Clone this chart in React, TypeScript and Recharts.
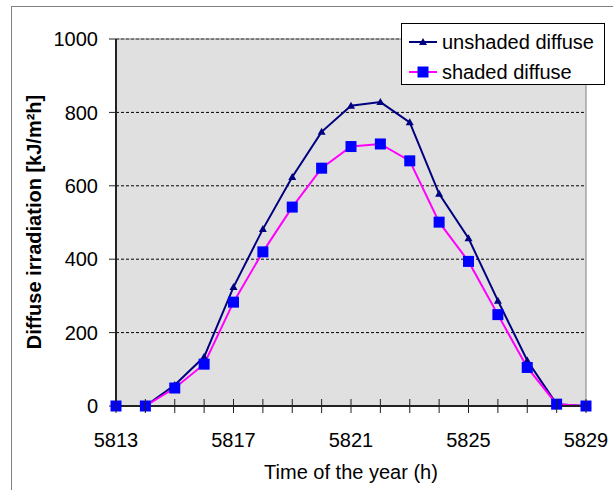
import React from 'react';
import {
  LineChart,
  Line,
  XAxis,
  YAxis,
  CartesianGrid,
  ReferenceLine,
} from 'recharts';

const hours = [5813, 5814, 5815, 5816, 5817, 5818, 5819, 5820, 5821, 5822, 5823, 5824, 5825, 5826, 5827, 5828, 5829];
const unshadedDiffuse = [0, 0, 57, 134, 324, 482, 624, 747, 818, 828, 773, 578, 457, 287, 124, 5, 0];
const shadedDiffuse = [0, 0, 49, 114, 283, 420, 542, 648, 707, 714, 668, 501, 394, 249, 105, 5, 0];
const xLabels = [5813, 5817, 5821, 5825, 5829];
const yTicks = [0, 200, 400, 600, 800, 1000];

const data = hours.map((h, i) => ({
  hour: h,
  unshaded: unshadedDiffuse[i],
  shaded: shadedDiffuse[i],
}));

const FONT = '"Liberation Sans", Arial, sans-serif';

const Triangle = (props: any) => {
  const { cx, cy, fill } = props;
  if (cx == null || cy == null) return null;
  return <polygon points={`${cx - 4},${cy + 3} ${cx + 4},${cy + 3} ${cx},${cy - 4}`} fill={fill} />;
};

const Square = (props: any) => {
  const { cx, cy, fill } = props;
  if (cx == null || cy == null) return null;
  return <rect x={cx - 5.5} y={cy - 5.5} width={11} height={11} fill={fill} />;
};

const XTick = (props: any) => {
  const { x, y, payload } = props;
  const v = payload.value;
  const axisY = y - 7 - 20;
  return (
    <g>
      <line x1={x} x2={x} y1={axisY - 7} y2={axisY + 7} stroke="#222" strokeWidth={1} />
      {xLabels.includes(v) && (
        <text x={x} y={y} dy="0.71em" textAnchor="middle" fontSize={20} fontFamily={FONT} fill="#000">
          {v}
        </text>
      )}
    </g>
  );
};

const LegendBox = () => (
  <svg width={204} height={62} style={{ display: 'block' }}>
    <rect x={0.5} y={0.5} width={203} height={61} fill="#fff" stroke="#000" strokeWidth={1} />
    <line x1={8} x2={36} y1={19} y2={19} stroke="#000080" strokeWidth={2} />
    <Triangle cx={22} cy={19} fill="#000080" />
    <text x={41} y={19} dy="0.355em" fontSize={20} fontFamily={FONT} fill="#000">unshaded diffuse</text>
    <line x1={8} x2={36} y1={49} y2={49} stroke="#ff00ff" strokeWidth={2} />
    <Square cx={22} cy={49} fill="#0000ff" />
    <text x={41} y={49} dy="0.355em" fontSize={20} fontFamily={FONT} fill="#000">shaded diffuse</text>
  </svg>
);

export default function App() {
  return (
    <div style={{ position: 'fixed', left: 0, top: 0, width: 613, height: 490, background: '#fff', overflow: 'hidden' }}>
      <div style={{ position: 'absolute', left: 11, top: 6, width: 700, height: 600, border: '1px solid #808080' }} />
      <div style={{ position: 'absolute', left: 0, top: 0 }}>
        <LineChart width={613} height={490} data={data} margin={{ top: 39, right: 27, left: 0, bottom: 0 }}>
          <CartesianGrid
            vertical={false}
            fill="#e0e0e0"
            stroke="#000"
            strokeDasharray="3 2"
            fillOpacity={1}
          />
          <XAxis
            dataKey="hour"
            type="number"
            domain={[5813, 5829]}
            ticks={hours}
            interval={0}
            height={84}
            tickLine={false}
            tickSize={7}
            tickMargin={20}
            axisLine={{ stroke: '#222', strokeWidth: 2 }}
            tick={<XTick />}
          />
          <YAxis
            domain={[0, 1000]}
            ticks={yTicks}
            width={116}
            tickSize={7}
            tickMargin={11}
            axisLine={{ stroke: '#222', strokeWidth: 2 }}
            tickLine={{ stroke: '#222' }}
            tick={{ fontSize: 20, fontFamily: FONT, fill: '#000' }}
          />
          <ReferenceLine y={1000} stroke="#808080" strokeWidth={1} />
          <ReferenceLine x={5829} stroke="#808080" strokeWidth={1} />
          <Line
            type="linear"
            dataKey="unshaded"
            stroke="#000080"
            strokeWidth={2}
            dot={<Triangle fill="#000080" />}
            isAnimationActive={false}
          />
          <Line
            type="linear"
            dataKey="shaded"
            stroke="#ff00ff"
            strokeWidth={2}
            dot={<Square fill="#0000ff" />}
            isAnimationActive={false}
          />
          <text x={34} y={222} transform="rotate(-90, 34, 222)" textAnchor="middle" dominantBaseline="central"
            fontSize={20} fontWeight="bold" fontFamily={FONT} fill="#000">
            Diffuse irradiation [kJ/m²h]
          </text>
          <text x={351} y={479} textAnchor="middle" fontSize={20} fontFamily={FONT} fill="#000">
            Time of the year (h)
          </text>
        </LineChart>
      </div>
      <div style={{ position: 'absolute', left: 401, top: 23 }}>
        <LegendBox />
      </div>
    </div>
  );
}
